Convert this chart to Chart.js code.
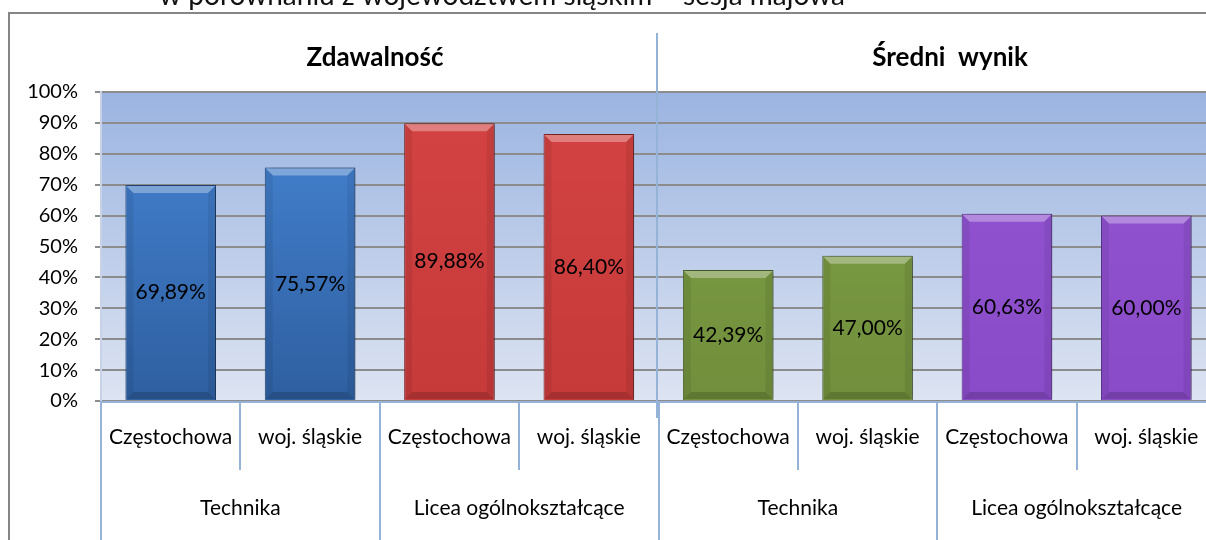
<!DOCTYPE html>
<html>
<head>
<meta charset="utf-8">
<script src="https://cdn.jsdelivr.net/npm/chart.js@4"></script>
<style>
  html, body { margin: 0; padding: 0; background: #fff; overflow: hidden; }
  #wrap { width: 1230px; height: 540px; }
</style>
</head>
<body>
<div id="wrap"><canvas id="wyniki" width="1230" height="540"></canvas></div>
<script>
var categories = ['Częstochowa', 'woj. śląskie', 'Częstochowa', 'woj. śląskie',
                  'Częstochowa', 'woj. śląskie', 'Częstochowa', 'woj. śląskie'];
var groups = ['Technika', 'Licea ogólnokształcące', 'Technika', 'Licea ogólnokształcące'];
var sections = ['Zdawalność', 'Średni  wynik'];
var values = [69.89, 75.57, 89.88, 86.40, 42.39, 47.00, 60.63, 60.00];
var heading = 'w porównaniu z województwem śląskim – sesja majowa';

var FONT = 'Lato, "Open Sans", sans-serif';
var fills = ['#4786d6', '#4786d6', '#d44343', '#d44343', '#80a046', '#80a046', '#9455d3', '#9455d3'];
var fillsDark = ['#2e5fa0', '#2e5fa0', '#c63a3a', '#c63a3a', '#718f3c', '#718f3c', '#8a4bc9', '#8a4bc9'];
var edges = ['#234a7e', '#234a7e', '#842626', '#842626', '#4d6430', '#4d6430', '#58318a', '#58318a'];

function fmt(v) {
    return v.toFixed(2).replace('.', ',') + '%';
}

// gradient behind the bars
var plotBackground = {
    id: 'plotBackground',
    beforeDraw: function (chart) {
        var a = chart.chartArea, ctx = chart.ctx;
        var g = ctx.createLinearGradient(0, a.top, 0, a.bottom);
        g.addColorStop(0, '#9bb4e1');
        g.addColorStop(1, '#dde4f2');
        ctx.save();
        ctx.fillStyle = g;
        ctx.fillRect(a.left, a.top, a.right - a.left, a.bottom - a.top);
        ctx.restore();
    }
};

// soft shadow under the bars
var barShadow = {
    id: 'barShadow',
    beforeDatasetDraw: function (chart) {
        var ctx = chart.ctx;
        ctx.save();
        ctx.shadowColor = 'rgba(0,0,0,0.35)';
        ctx.shadowOffsetX = 4;
        ctx.shadowOffsetY = 0;
        ctx.shadowBlur = 6;
    },
    afterDatasetDraw: function (chart) {
        chart.ctx.restore();
    }
};

// bevel edges and the value inside each bar
var barDecor = {
    id: 'barDecor',
    afterDatasetsDraw: function (chart) {
        var ctx = chart.ctx;
        var meta = chart.getDatasetMeta(0);
        ctx.save();
        meta.data.forEach(function (bar, i) {
            var p = bar.getProps(['x', 'y', 'base', 'width'], true);
            var l = p.x - p.width / 2, r = p.x + p.width / 2, t = p.y, b = p.base, k = 8;
            ctx.fillStyle = 'rgba(255,255,255,0.32)';
            ctx.beginPath();
            ctx.moveTo(l + 1, t + 1); ctx.lineTo(r - 1, t + 1); ctx.lineTo(r - k, t + k); ctx.lineTo(l + k, t + k);
            ctx.closePath(); ctx.fill();
            ctx.fillStyle = 'rgba(0,0,0,0.16)';
            ctx.beginPath();
            ctx.moveTo(l + 1, b - 1); ctx.lineTo(r - 1, b - 1); ctx.lineTo(r - k, b - k); ctx.lineTo(l + k, b - k);
            ctx.closePath(); ctx.fill();
            ctx.fillStyle = 'rgba(0,0,0,0.07)';
            ctx.beginPath();
            ctx.moveTo(l + 1, t + 1); ctx.lineTo(l + k, t + k); ctx.lineTo(l + k, b - k); ctx.lineTo(l + 1, b - 1);
            ctx.closePath(); ctx.fill();
            ctx.beginPath();
            ctx.moveTo(r - 1, t + 1); ctx.lineTo(r - k, t + k); ctx.lineTo(r - k, b - k); ctx.lineTo(r - 1, b - 1);
            ctx.closePath(); ctx.fill();

            ctx.fillStyle = '#000';
            ctx.font = '21px ' + FONT;
            ctx.textAlign = 'center';
            ctx.textBaseline = 'middle';
            ctx.fillText(fmt(values[i]), p.x, (t + b) / 2);
        });
        ctx.restore();
    }
};

// two-level category axis, frame, headings and the section divider
var chartFrame = {
    id: 'chartFrame',
    afterDraw: function (chart) {
        var ctx = chart.ctx, a = chart.chartArea, x = chart.scales.x;
        var half = (x.getPixelForValue(1) - x.getPixelForValue(0)) / 2;
        ctx.save();

        ctx.strokeStyle = '#95b3d7';
        ctx.lineWidth = 2;
        ctx.beginPath();
        ctx.moveTo(a.left, a.bottom + 1); ctx.lineTo(a.right, a.bottom + 1);
        for (var i = 0; i <= categories.length; i++) {
            var ex = Math.round(x.getPixelForValue(i) - half);
            ctx.moveTo(ex, a.bottom);
            ctx.lineTo(ex, i % 2 === 0 ? 540 : 470);
        }
        ctx.stroke();

        // divider between the two sections
        var mid = Math.round(x.getPixelForValue(4) - half) - 2;
        ctx.beginPath();
        ctx.moveTo(mid, 33); ctx.lineTo(mid, 418);
        ctx.stroke();

        ctx.fillStyle = '#000';
        ctx.textAlign = 'center';
        ctx.textBaseline = 'middle';
        ctx.font = '21px ' + FONT;
        categories.forEach(function (c, i) {
            ctx.fillText(c, x.getPixelForValue(i), 437);
        });
        groups.forEach(function (g, j) {
            ctx.fillText(g, (x.getPixelForValue(2 * j) + x.getPixelForValue(2 * j + 1)) / 2, 508);
        });

        ctx.font = 'bold 26px ' + FONT;
        ctx.fillText(sections[0], 375, 58);
        ctx.fillText(sections[1], 950, 58);

        // outer frame
        ctx.strokeStyle = '#868686';
        ctx.lineWidth = 2;
        ctx.beginPath();
        ctx.moveTo(9, 540); ctx.lineTo(9, 13); ctx.lineTo(1230, 13);
        ctx.stroke();

        ctx.font = '28px ' + FONT;
        ctx.textBaseline = 'alphabetic';
        ctx.fillStyle = '#111';
        ctx.fillText(heading, 502, 5);
        ctx.restore();
    }
};

var ctx = document.getElementById('wyniki').getContext('2d');
var chart = new Chart(ctx, {
    type: 'bar',
    data: {
        labels: categories,
        datasets: [{
            data: values,
            backgroundColor: function (c) {
                var a = c.chart.chartArea;
                if (!a) return fills[c.dataIndex];
                var g = c.chart.ctx.createLinearGradient(0, a.top, 0, a.bottom);
                g.addColorStop(0, fills[c.dataIndex]);
                g.addColorStop(1, fillsDark[c.dataIndex]);
                return g;
            },
            borderColor: edges,
            borderWidth: 1,
            barPercentage: 0.65,
            categoryPercentage: 1
        }]
    },
    options: {
        responsive: false,
        animation: false,
        devicePixelRatio: 1,
        layout: { padding: { left: 0, top: 92, right: 14, bottom: 139 } },
        plugins: {
            legend: { display: false },
            tooltip: { enabled: false }
        },
        scales: {
            x: { display: false },
            y: {
                min: 0,
                max: 100,
                ticks: {
                    stepSize: 10,
                    padding: 17,
                    color: '#000',
                    font: { family: FONT, size: 20 },
                    callback: function (v) { return v + '%'; }
                },
                grid: { color: '#8c8c8c', lineWidth: 2, tickLength: 6 },
                border: { display: true, color: '#c8d2e6', width: 2 },
                afterFit: function (s) { s.width = 101; }
            }
        }
    },
    plugins: [plotBackground, barShadow, barDecor, chartFrame]
});
</script>
</body>
</html>
